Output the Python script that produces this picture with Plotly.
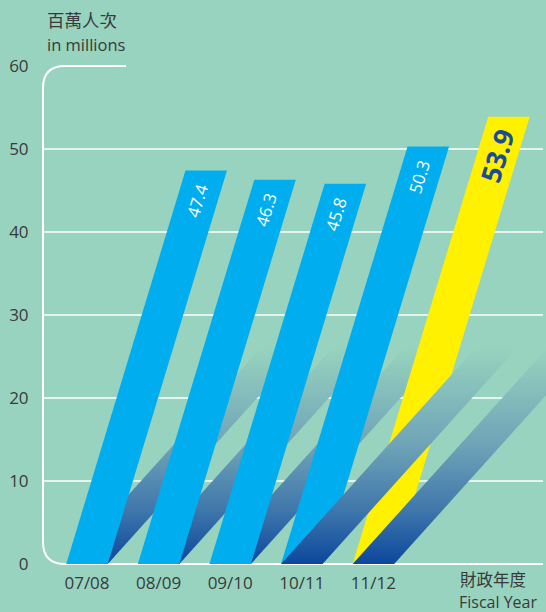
import plotly.graph_objects as go

# ---------------- data ----------------
categories = ["07/08", "08/09", "09/10", "10/11", "11/12"]
values = [47.4, 46.3, 45.8, 50.3, 53.9]
value_labels = ["47.4", "46.3", "45.8", "50.3", "53.9"]
y_ticks = [0, 10, 20, 30, 40, 50, 60]
grid_values = [10, 20, 30, 40, 50]
highlight = [False, False, False, False, True]
shadow_on_top = [False, False, False, True, True]

# ---------------- geometry / style ----------------
W, H = 546, 612
L, R, T, B = 43, 0, 66, 48
plot_w = W - L - R
plot_h = H - T - B
unit_px = 71.6                     # px per category step
px_per_val = plot_h / 60.0
first_center_px = 87 - L
x_range = [-first_center_px / unit_px, (plot_w - first_center_px) / unit_px]

bar_w = 41.5 / unit_px
bar_slant = 0.303 * px_per_val / unit_px      # x-units per value unit
shadow_slant = 0.9 * px_per_val / unit_px
shadow_len = 27
shadow_fade = 26

BG = "#97d3be"
CYAN = "#00aeef"
YELLOW = "#fff100"
TXT = "#3a3a3a"
DARKBLUE = "#1b4c9c"
FONT = "Open Sans, Noto Sans, sans-serif"
CJK = "Noto Sans CJK TC, Noto Sans, sans-serif"

fig = go.Figure()


def bar_trace(i):
    c, v = i, values[i]
    xs = [c - bar_w / 2, c + bar_w / 2, c + bar_w / 2 + bar_slant * v, c - bar_w / 2 + bar_slant * v, c - bar_w / 2]
    ys = [0, 0, v, v, 0]
    return go.Scatter(x=xs, y=ys, fill="toself", mode="lines", line=dict(width=0),
                      fillcolor=YELLOW if highlight[i] else CYAN, hoverinfo="skip", showlegend=False)


def shadow_trace(i):
    c = i
    s = shadow_len
    xs = [c - bar_w / 2, c + bar_w / 2, c + bar_w / 2 + shadow_slant * s, c - bar_w / 2 + shadow_slant * s, c - bar_w / 2]
    ys = [0, 0, s, s, 0]
    return go.Scatter(x=xs, y=ys, fill="toself", mode="lines", line=dict(width=0),
                      fillgradient=dict(type="vertical", start=0, stop=shadow_fade,
                                        colorscale=[[0, "#0b479d"], [0.25, "#3f77ab"],
                                                    [0.55, "#6fa3b8"], [1, BG]]),
                      hoverinfo="skip", showlegend=False)


n = len(categories)
for i in range(n):
    if not shadow_on_top[i]:
        fig.add_trace(shadow_trace(i))
    fig.add_trace(bar_trace(i))
for i in range(n):
    if shadow_on_top[i]:
        fig.add_trace(shadow_trace(i))

# value labels along bars
annotations = []
for i in range(n):
    off = 4.7 if highlight[i] else 3.6
    h = values[i] - off
    annotations.append(dict(
        x=i + bar_slant * h, y=h, xref="x", yref="y", text=value_labels[i],
        showarrow=False, textangle=-73,
        font=dict(family=FONT, size=27 if highlight[i] else 17,
                  color=DARKBLUE if highlight[i] else "white",
                  weight="bold" if highlight[i] else "normal"),
    ))


def PX(px):
    return (px - L) / plot_w


def PY(py):
    return (H - B - py) / plot_h


annotations += [
    dict(x=PX(45), y=PY(20), xref="paper", yref="paper", text="百萬人次", showarrow=False,
         xanchor="left", yanchor="middle", font=dict(family=CJK, size=17.5, color=TXT)),
    dict(x=PX(45), y=PY(45), xref="paper", yref="paper", text="in millions", showarrow=False,
         xanchor="left", yanchor="middle", font=dict(family=FONT, size=16.5, color=TXT)),
    dict(x=PX(459), y=PY(578.5), xref="paper", yref="paper", text="財政年度", showarrow=False,
         xanchor="left", yanchor="middle", borderpad=0,
         font=dict(family=CJK, size=16.5, color=TXT)),
    dict(x=PX(458), y=PY(602), xref="paper", yref="paper", text="Fiscal Year", showarrow=False,
         xanchor="left", yanchor="middle", borderpad=0,
         font=dict(family=FONT, size=16, color=TXT)),
]

shapes = []
for g in grid_values:
    shapes.append(dict(type="line", xref="paper", yref="y", x0=PX(43), x1=PX(543), y0=g, y1=g,
                       line=dict(color="white", width=1.5), layer="below"))
r = 22
frame = (f"M {PX(126)},{PY(66)} L {PX(43 + r)},{PY(66)} Q {PX(43)},{PY(66)} {PX(43)},{PY(66 + r)} "
         f"L {PX(43)},{PY(564 - r)} Q {PX(43)},{PY(564)} {PX(43 + r)},{PY(564)} L {PX(543)},{PY(564)}")
shapes.append(dict(type="path", xref="paper", yref="paper", path=frame,
                   line=dict(color="white", width=2), layer="below"))

fig.update_layout(
    width=W, height=H,
    margin=dict(l=L, r=R, t=T, b=B),
    paper_bgcolor=BG, plot_bgcolor=BG,
    showlegend=False,
    annotations=annotations,
    shapes=shapes,
    xaxis=dict(range=x_range, tickvals=list(range(n)), ticktext=categories,
               showgrid=False, zeroline=False, showline=False,
               ticks="outside", ticklen=4, tickcolor="rgba(0,0,0,0)",
               tickfont=dict(family=FONT, size=17, color=TXT), fixedrange=True),
    yaxis=dict(range=[0, 60], tickvals=y_ticks, showgrid=False, zeroline=False, showline=False,
               ticks="outside", ticklen=10, tickcolor="rgba(0,0,0,0)",
               tickfont=dict(family=FONT, size=17, color=TXT), fixedrange=True),
)

fig.write_html("out.html", config={"displayModeBar": False},
               post_script="document.body.style.margin='0';document.body.style.background='" + BG + "';")
